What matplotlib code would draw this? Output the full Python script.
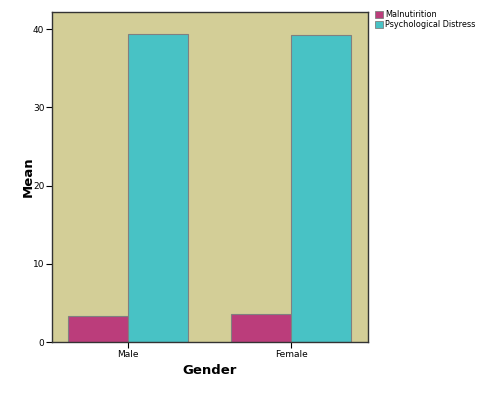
import matplotlib
matplotlib.use('Agg')
import matplotlib.pyplot as plt
import numpy as np
from matplotlib.patches import Patch

categories = ['Male', 'Female']
malnutrition = [3.3, 3.6]
distress = [39.4, 39.2]
series_names = ['Malnutirition', 'Psychological Distress']
colors_ = ['#bb3d7b', '#48c2c5']

fig = plt.figure(figsize=(4.93, 3.96), dpi=100)
W, H = 493, 396
ax = fig.add_axes([52 / W, 1 - 342 / H, (368 - 52) / W, (342 - 12) / H])
ax.set_facecolor('#d3ce97')

x = np.arange(len(categories))
w = 0.37
ax.bar(x - w / 2, malnutrition, w, color=colors_[0], edgecolor='#808080', linewidth=0.8)
ax.bar(x + w / 2, distress, w, color=colors_[1], edgecolor='#808080', linewidth=0.8)

ax.set_xlim(-0.466, 1.472)
ax.set_ylim(0, 42.2)
ax.set_xticks(x)
ax.set_xticklabels(categories)
ax.set_yticks([0, 10, 20, 30, 40])
ax.tick_params(axis='both', labelsize=6.5, length=4, width=0.8, pad=1.5)
for s in ax.spines.values():
    s.set_linewidth(1.0)
    s.set_color('#333333')

ax.set_xlabel('Gender', fontsize=9.5, fontweight='bold')
ax.set_ylabel('Mean', fontsize=9.5, fontweight='bold')
ax.xaxis.set_label_coords(0.5, (342 - 371) / 330, transform=ax.transAxes)
ax.yaxis.set_label_coords((28 - 52) / 316, 0.5, transform=ax.transAxes)
ax.xaxis.label.set_va('center')
ax.yaxis.label.set_va('center')

handles = [Patch(facecolor=c, edgecolor='#808080', linewidth=0.6) for c in colors_]
fig.legend(handles, series_names, loc='upper left', bbox_to_anchor=(375 / W, 1 - 10 / H),
           frameon=False, fontsize=5.9, handlelength=1.0, handleheight=1.0,
           handletextpad=0.2, labelspacing=0.15, borderaxespad=0, borderpad=0)

fig.savefig('out.png', dpi=100)
